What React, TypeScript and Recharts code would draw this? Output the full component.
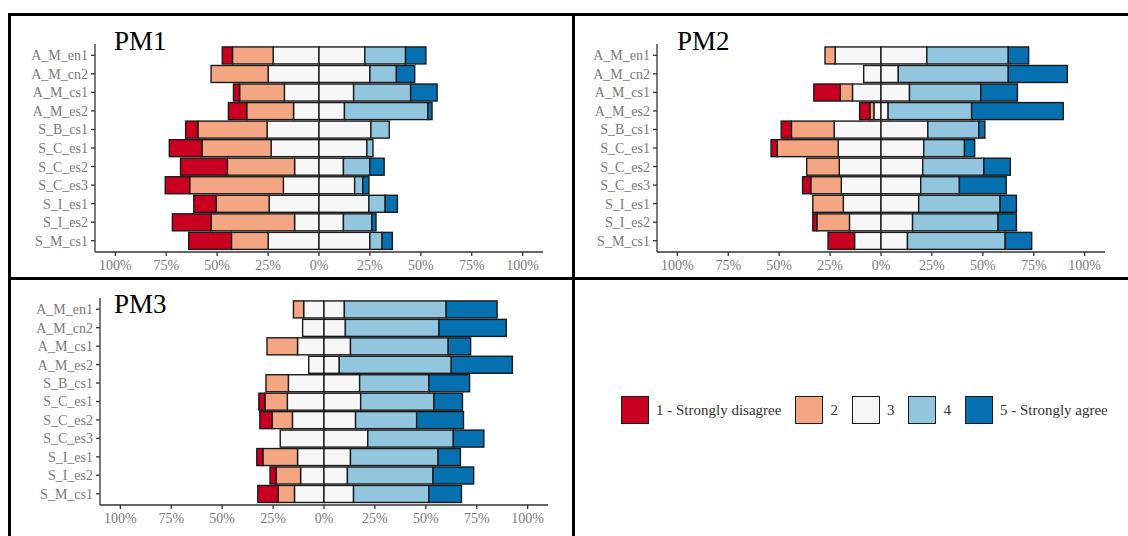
import React from "react";
import { BarChart, Bar, XAxis, YAxis } from "recharts";

const items = [
  "A_M_en1",
  "A_M_cn2",
  "A_M_cs1",
  "A_M_es2",
  "S_B_cs1",
  "S_C_es1",
  "S_C_es2",
  "S_C_es3",
  "S_I_es1",
  "S_I_es2",
  "S_M_cs1",
];

// percent answering 1..5 for each item, per panel
const pm1Values = [
  [5, 20, 45, 20, 10],
  [0, 28, 50, 13, 9],
  [3, 22, 34, 28, 13],
  [9, 23, 25, 41, 2],
  [6, 34, 51, 9, 0],
  [16, 34, 47, 3, 0],
  [23, 33, 24, 13, 7],
  [12, 46, 35, 4, 3],
  [11, 26, 49, 8, 6],
  [19, 41, 24, 14, 2],
  [21, 18, 50, 6, 5],
];

const pm2Values = [
  [0, 5, 45, 40, 10],
  [0, 0, 17, 54, 29],
  [13, 6, 28, 35, 18],
  [5, 2, 7, 41, 45],
  [5, 21, 46, 25, 3],
  [3, 30, 42, 20, 5],
  [0, 16, 41, 30, 13],
  [4, 15, 39, 19, 23],
  [0, 15, 37, 40, 8],
  [2, 16, 31, 42, 9],
  [13, 0, 26, 48, 13],
];

const pm3Values = [
  [0, 5, 20, 50, 25],
  [0, 0, 21, 46, 33],
  [0, 15, 26, 48, 11],
  [0, 0, 15, 55, 30],
  [0, 11, 35, 34, 20],
  [3, 11, 36, 36, 14],
  [6, 10, 31, 30, 23],
  [0, 0, 43, 42, 15],
  [3, 17, 26, 43, 11],
  [3, 12, 23, 42, 20],
  [10, 8, 29, 37, 16],
];

const levels = [
  "1 - Strongly disagree",
  "2",
  "3",
  "4",
  "5 - Strongly agree",
];
const colors = ["#CA0020", "#F4A582", "#F7F7F7", "#92C5DE", "#0571B0"];
const xTicks = [-100, -75, -50, -25, 0, 25, 50, 75, 100];

const serif = "Liberation Serif, serif";

function buildRows(values: number[][]) {
  return items.map((item, i) => {
    const [a, b, c, d, e] = values[i];
    return {
      item,
      n3: -c / 2,
      p3: c / 2,
      n2: -b,
      p4: d,
      n1: -a,
      p5: e,
    };
  });
}

const Segment = (props: any) => {
  const { x, y, width, height, fill } = props;
  if (!width || Math.abs(width) < 0.5) return null;
  const left = Math.min(x, x + width);
  return (
    <rect
      x={left}
      y={y}
      width={Math.abs(width)}
      height={height}
      fill={fill}
      stroke="#1a1a1a"
      strokeWidth={1.4}
    />
  );
};

const series = [
  { key: "n3", color: colors[2] },
  { key: "p3", color: colors[2] },
  { key: "n2", color: colors[1] },
  { key: "p4", color: colors[3] },
  { key: "n1", color: colors[0] },
  { key: "p5", color: colors[4] },
];

function Panel({
  values,
  left,
  top,
  width,
  height,
  yWidth,
  marginTop,
  marginRight,
  xHeight,
}: {
  values: number[][];
  left: number;
  top: number;
  width: number;
  height: number;
  yWidth: number;
  marginTop: number;
  marginRight: number;
  xHeight: number;
}) {
  const rows = buildRows(values);
  return (
    <div style={{ position: "absolute", left, top }}>
      <BarChart
        width={width}
        height={height}
        data={rows}
        layout="vertical"
        stackOffset="sign"
        barCategoryGap="5%"
        margin={{ top: marginTop, right: marginRight, left: 0, bottom: 0 }}
      >
        <XAxis
          type="number"
          domain={[-110, 110]}
          ticks={xTicks}
          interval={0}
          allowDataOverflow
          height={xHeight}
          tickFormatter={(v: number) => `${Math.abs(v)}%`}
          axisLine={{ stroke: "#333", strokeWidth: 1.3 }}
          tickLine={{ stroke: "#333", strokeWidth: 1.3 }}
          tickSize={4}
          tickMargin={4}
          tick={{ fill: "#7a7a7a", fontSize: 14, fontFamily: serif }}
        />
        <YAxis
          type="category"
          dataKey="item"
          width={yWidth}
          interval={0}
          padding={{ top: 2, bottom: 2 }}
          axisLine={{ stroke: "#333", strokeWidth: 1.3 }}
          tickLine={{ stroke: "#333", strokeWidth: 1.3 }}
          tickSize={4}
          tickMargin={3}
          tick={{ fill: "#7a7a7a", fontSize: 14, fontFamily: serif }}
        />
        {series.map((s) => (
          <Bar
            key={s.key}
            dataKey={s.key}
            stackId="a"
            fill={s.color}
            shape={<Segment />}
            isAnimationActive={false}
          />
        ))}
      </BarChart>
    </div>
  );
}

const line = (
  left: number,
  top: number,
  width: number,
  height: number
): React.CSSProperties => ({
  position: "absolute",
  left,
  top,
  width,
  height,
  background: "#000",
});

const title: React.CSSProperties = {
  position: "absolute",
  fontFamily: serif,
  fontSize: 27,
  lineHeight: "27px",
  color: "#000",
};

export default function App() {
  return (
    <div
      style={{
        position: "absolute",
        left: 0,
        top: 0,
        width: 1128,
        height: 536,
        background: "#fff",
        overflow: "hidden",
      }}
    >
      <Panel
        values={pm1Values}
        left={12}
        top={16}
        width={548}
        height={261}
        yWidth={83}
        marginTop={28}
        marginRight={17}
        xHeight={25}
      />
      <Panel
        values={pm2Values}
        left={576}
        top={16}
        width={548}
        height={261}
        yWidth={81}
        marginTop={28}
        marginRight={19}
        xHeight={25}
      />
      <Panel
        values={pm3Values}
        left={12}
        top={282}
        width={548}
        height={254}
        yWidth={88}
        marginTop={16}
        marginRight={12}
        xHeight={31}
      />

      <div style={{ ...title, left: 114, top: 28 }}>PM1</div>
      <div style={{ ...title, left: 677, top: 28 }}>PM2</div>
      <div style={{ ...title, left: 114, top: 291 }}>PM3</div>

      <div
        style={{
          position: "absolute",
          left: 621,
          top: 396,
          display: "flex",
          alignItems: "center",
          fontFamily: serif,
          fontSize: 15,
          color: "#333",
        }}
      >
        {levels.map((lv, i) => (
          <div
            key={lv}
            style={{ display: "flex", alignItems: "center", marginRight: 14 }}
          >
            <div
              style={{
                width: 26,
                height: 26,
                background: colors[i],
                border: "1.5px solid #1a1a1a",
                marginRight: 7,
              }}
            />
            <span>{lv}</span>
          </div>
        ))}
      </div>

      <div style={line(8, 13, 1120, 3)} />
      <div style={line(8, 13, 3, 523)} />
      <div style={line(572, 13, 3, 523)} />
      <div style={line(8, 277, 1120, 3)} />
    </div>
  );
}
